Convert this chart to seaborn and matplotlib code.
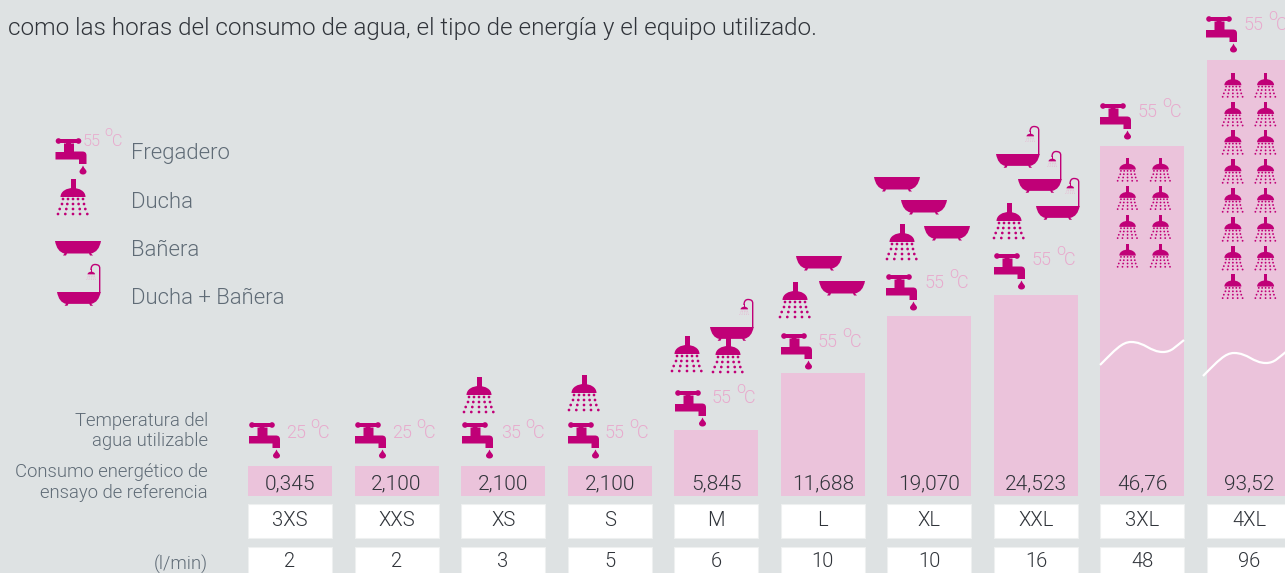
import numpy as np
import pandas as pd
import matplotlib
matplotlib.use('Agg')
import matplotlib.pyplot as plt
import seaborn as sns
from matplotlib.path import Path
from matplotlib.patches import PathPatch, Circle, Rectangle
from matplotlib.transforms import Affine2D

# datos
sizes = ['3XS', 'XXS', 'XS', 'S', 'M', 'L', 'XL', 'XXL', '3XL', '4XL']
energy = ['0,345', '2,100', '2,100', '2,100', '5,845', '11,688', '19,070', '24,523', '46,76', '93,52']
flow = ['2', '2', '3', '5', '6', '10', '10', '16', '48', '96']
bar_heights = [30, 30, 30, 30, 66, 123, 180, 201, 350, 436]
temps = ['25', '25', '35', '55', '55', '55', '55', '55', '55', '55']

intro = 'como las horas del consumo de agua, el tipo de energía y el equipo utilizado.'
row_labels = ['Temperatura del\nagua utilizable', 'Consumo energético de\nensayo de referencia', '(l/min)']
legend_labels = ['Fregadero', 'Ducha', 'Bañera', 'Ducha + Bañera']

BG = '#dee2e3'
PINK = '#ebc3db'
MAG = '#c00077'
TEMP = '#e8aacd'
GREY = '#5f6b76'
DARK = '#30343a'

plt.rcParams['figure.dpi'] = 100
sns.set_theme(style='white', rc={'figure.facecolor': BG, 'axes.facecolor': BG})
plt.rcParams['font.family'] = ['Roboto', 'DejaVu Sans']
plt.rcParams['font.weight'] = 300

W, H = 1285, 573
x0, dx, bw = 290, 106.56, 84
base = 496

fig = plt.figure(figsize=(W / 100, H / 100), dpi=100)
ax = fig.add_axes([0, 0, 1, 1])
df = pd.DataFrame({'size': sizes, 'height': bar_heights})
sns.barplot(data=df, x='size', y='height', order=sizes, color=PINK, saturation=1,
            width=bw / dx, linewidth=0, ax=ax)
ax.set_xlim(-x0 / dx, (W - x0) / dx)
ax.set_ylim(base - H, base)
ax.axis('off')

# capa en pixeles para iconos y textos
ov = fig.add_axes([0, 0, 1, 1])
ov.set_xlim(0, W)
ov.set_ylim(H, 0)
ov.axis('off')
ov.patch.set_alpha(0)


def tf(x, y, s):
    return Affine2D().scale(s).translate(x, y) + ov.transData


def shape(verts, codes, x, y, s, color=MAG):
    ov.add_patch(PathPatch(Path(verts, codes), fc=color, ec='none', transform=tf(x, y, s)))


L, M, C3, C4 = Path.LINETO, Path.MOVETO, Path.CURVE3, Path.CURVE4


def tap(x, y, s=1.0):
    body = [(10.5, 4), (15.5, 4), (15.5, 6.5), (18.5, 6.5), (18.5, 14.5), (27, 14.5), (31, 14.5), (31, 18.5),
            (31, 27), (23.5, 27), (23.5, 22.5), (0, 22.5), (0, 15), (8.5, 15), (8.5, 6.5), (10.5, 6.5), (10.5, 4)]
    codes = [M, L, L, L, L, L, C3, C3, L, L, L, L, L, L, L, L, L]
    shape(body, codes, x, y, s)
    shape([(3, 2), (23, 2), (23, 6), (3, 6), (3, 2)], [M, L, L, L, L], x, y, s)
    for cx in (3, 23):
        ov.add_patch(Circle((cx, 4), 2.8, fc=MAG, ec='none', transform=tf(x, y, s)))
    drop = [(27.5, 28.5), (29, 32), (31, 33), (31, 34.5), (31, 38.5), (24, 38.5), (24, 34.5),
            (24, 33), (26, 32), (27.5, 28.5)]
    shape(drop, [M, C4, C4, C4, C4, C4, C4, C4, C4, C4], x, y, s)


dot_rows = [(20, [6, 11, 16, 21, 26]), (25, [5, 10.3, 16, 21.6, 27]),
            (30, [2.7, 9.3, 16, 22.7, 28.3]), (35, [1, 8.3, 16, 23, 30.3])]


def shower(x, y, s=1.0, dot_color=MAG):
    shape([(13.5, 0), (18.5, 0), (18.5, 10), (13.5, 10), (13.5, 0)], [M, L, L, L, L], x, y, s)
    dome = [(3.5, 18), (3.5, 12), (10, 9), (16, 9), (22, 9), (28.5, 12), (28.5, 18), (3.5, 18)]
    shape(dome, [M, C4, C4, C4, C4, C4, C4, L], x, y, s)
    for ry, xs in dot_rows:
        for rx in xs:
            ov.add_patch(Circle((rx, ry), 1.35, fc=dot_color, ec='none', transform=tf(x, y, s)))


def bath(x, y, s=1.0):
    v = [(0, 0), (46, 0), (44, 11), (36, 12.5), (38, 14.5), (35, 14.5), (34, 12.5), (12, 12.5),
         (11, 14.5), (8, 14.5), (9.5, 12.5), (2, 11), (0, 0)]
    shape(v, [M, L, C3, C3, L, L, L, L, L, L, L, C3, C3], x, y, s)


def combo(x, y):
    bath(x, y + 29, 0.95)
    ov.add_patch(PathPatch(Path([(42.7, 30), (42.7, 5), (42.7, 1.5), (38, 1.5), (34, 1.5), (34, 7)],
                                [M, L, C3, C3, C3, C3]),
                           fc='none', ec=MAG, lw=1.0, transform=tf(x, y, 1)))
    shower(x + 29.5, y + 6, 0.3, dot_color=TEMP)


def temp(x, base_y, t, s=1.0):
    kw = dict(color=TEMP, va='baseline', ha='left', clip_on=True)
    ov.text(x, base_y, t, fontsize=13 * s, **kw)
    ov.text(x + 24 * s, base_y - 10, 'o', fontsize=11.5 * s, **kw)
    ov.text(x + 32 * s, base_y, 'C', fontsize=13 * s, **kw)


# grifos y temperaturas de cada columna: (x, y del grifo, x, base del texto)
tap_pos = [(249, 421, 286, 438), (355, 421, 392, 438), (462, 421, 501, 438), (568, 421, 605, 438),
           (675, 389, 712, 403), (781, 332, 818, 347), (886, 273, 925, 288), (994, 252, 1032, 265),
           (1100, 102, 1138, 117), (1206, 15, 1244, 30)]
for (tx, ty, lx, ly), t in zip(tap_pos, temps):
    tap(tx, ty)
    temp(lx, ly, t)

for px, py in [(463, 377), (568, 375), (671, 336), (712, 337), (779, 282), (886, 224), (993, 203)]:
    shower(px, py)
for px, py in [(796, 256), (819, 281), (874, 177), (901, 200), (924, 226)]:
    bath(px, py)
combo(710, 298)
for px, py in [(996, 125), (1018, 150), (1036, 177)]:
    combo(px, py)

# duchas pequeñas dentro de las barras altas
for py in [157.7, 186, 215, 243.7]:
    for px in [1117, 1150]:
        shower(px, py, 0.66)
for py in [73, 101.7, 130, 159, 188, 217, 245.7, 274.3]:
    for px in [1222, 1254.7]:
        shower(px, py, 0.68)

# cortes de las barras
for wx, wy in [(1100, 365), (1203, 376)]:
    wave = [(0, 0), (15, -15), (22, -23), (31, -23), (45, -23), (50, -13), (63, -13), (72, -13), (76, -19), (84, -25)]
    wave = [(wx + a, wy + b) for a, b in wave]
    ov.add_patch(PathPatch(Path(wave, [M, C4, C4, C4, C4, C4, C4, C4, C4, C4]),
                           fc='none', ec='white', lw=1.6))

# filas inferiores
for i in range(len(sizes)):
    cx = x0 + dx * i
    ov.add_patch(Rectangle((cx - bw / 2, 503.5), bw, 34, fc='white', ec='#eef0f0', lw=0.8))
    ov.add_patch(Rectangle((cx - bw / 2, 546.5), bw, 30, fc='white', ec='#eef0f0', lw=0.8))
    ov.text(cx, 484, energy[i], ha='center', va='center', fontsize=15, color=DARK)
    ov.text(cx, 520.5, sizes[i], ha='center', va='center', fontsize=14.5, color=DARK)
    ov.text(cx, 561.5, flow[i], ha='center', va='center', fontsize=14.5, color=DARK)

for lbl, y in zip(row_labels, [431, 482.5, 564.5]):
    ov.text(208, y, lbl, ha='right', va='center', fontsize=13.3, color=GREY, linespacing=1.15)

# leyenda
tap(55.5, 137)
temp(83, 146, '55', 0.9)
shower(57, 179)
bath(55, 241)
combo(57, 263)
for lbl, y in zip(legend_labels, [154, 202, 250, 298]):
    ov.text(131, y, lbl, ha='left', va='center', fontsize=15.9, color=GREY)

ov.text(8, 28, intro, ha='left', va='center', fontsize=17.5, color=DARK)

fig.savefig('out.png', dpi=100, facecolor=BG)
